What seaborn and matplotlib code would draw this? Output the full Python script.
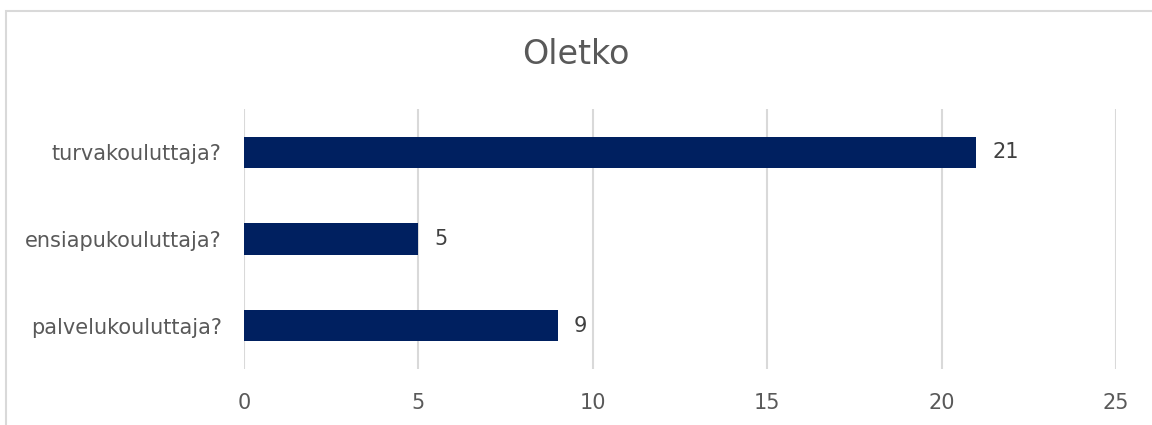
import matplotlib
matplotlib.use("Agg")
import matplotlib.pyplot as plt
import seaborn as sns
import pandas as pd
from matplotlib.patches import Rectangle

categories = ["turvakouluttaja?", "ensiapukouluttaja?", "palvelukouluttaja?"]
values = [21, 5, 9]
xticks = [0, 5, 10, 15, 20, 25]
title = "Oletko"

sns.set_theme(style="white")
plt.rcParams['font.family'] = ['DejaVu Sans']

df = pd.DataFrame({"cat": categories, "val": values})

fig = plt.figure(figsize=(11.52, 4.25), dpi=100)
ax = fig.add_axes([244/1152, 1-369/425, (1116-244)/1152, (369-109)/425])

sns.barplot(data=df, y="cat", x="val", color="#002060", width=0.36, ax=ax,
            saturation=1, edgecolor="none")

ax.set_xlim(0, 25)
ax.set_ylim(2.5, -0.5)
ax.set_xticks(xticks)
ax.set_xticklabels([str(t) for t in xticks])
ax.xaxis.grid(True, color="#d9d9d9", linewidth=1.5)
ax.set_axisbelow(True)
for s in ax.spines.values():
    s.set_visible(False)
ax.set_xlabel("")
ax.set_ylabel("")
ax.tick_params(axis="both", length=0, labelsize=15, colors="#595959")
ax.tick_params(axis="x", pad=17.5)
ax.tick_params(axis="y", pad=16)

for i, v in enumerate(values):
    ax.text(v + 0.45, i, str(v), va="center", ha="left", fontsize=15, color="#404040")

fig.text(0.5, 1 - 55/425, title, ha="center", va="center", fontsize=24, color="#595959")

rect = Rectangle((6/1152, -0.1), 1.2, 1 - 11/425 + 0.1, transform=fig.transFigure,
                 fill=False, edgecolor="#d9d9d9", linewidth=1.5)
fig.patches.append(rect)

fig.savefig("out.png", dpi=100)
